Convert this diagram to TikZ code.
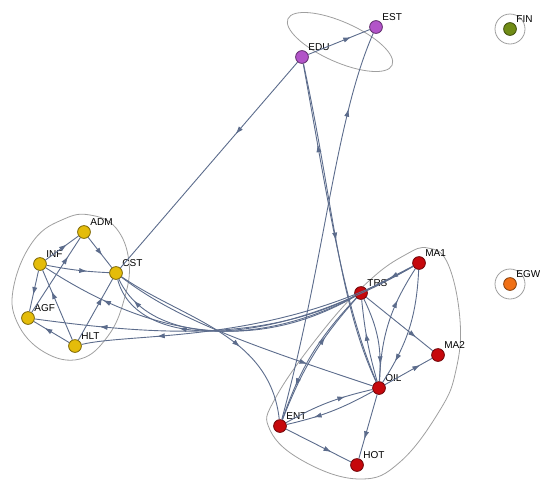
\documentclass[tikz,border=0pt]{standalone}
\usepackage{fontspec}
\setmainfont{Liberation Sans}
\usetikzlibrary{arrows.meta,decorations.markings}
\definecolor{arestacor}{RGB}{92,108,140}
\definecolor{amarelo}{RGB}{228,188,10}
\definecolor{vermelho}{RGB}{198,8,12}
\definecolor{roxo}{RGB}{178,84,200}
\definecolor{oliva}{RGB}{112,140,22}
\definecolor{laranja}{RGB}{240,112,22}
\begin{document}
\begin{tikzpicture}[x=0.5pt,y=-0.5pt,
  vertice/.style={circle,draw=#1!55!black,fill=#1,line width=.4pt,minimum size=6.4pt,inner sep=0pt},
  rotulo/.style={font=\fontsize{5}{6}\selectfont,inner sep=.6pt},
  aresta/.style={draw=arestacor,line width=.45pt,postaction={decorate},
    decoration={markings,mark=at position #1 with {\arrow{Latex[length=4pt,width=2.6pt]}}}},
  aresta/.default=.6,
  casca/.style={draw=gray!75,line width=.4pt}]
  \useasboundingbox (0,0) rectangle (540,493);
  % grupos
  \draw[casca] plot[smooth cycle,tension=.7] coordinates {(90,215) (116,228) (129,262) (124,300) (108,336) (80,359) (44,352) (17,322) (14,285) (34,240) (64,219)};
  \draw[casca] plot[smooth cycle,tension=.7] coordinates {(428,248) (448,264) (460,320) (456,370) (440,410) (400,462) (360,479) (305,462) (270,430) (276,397) (325,328) (370,280) (405,255)};
  \draw[casca,rotate around={-24:(340,42)}] (340,42) ellipse (57 and 20);
  \draw[casca] (510,29) circle (15);
  \draw[casca] (510,284) circle (15);
  % vertices
  \node[vertice=amarelo,label={[rotulo]45:ADM}] (adm) at (84,232) {};
  \node[vertice=amarelo,label={[rotulo]45:INF}] (inf) at (40,264) {};
  \node[vertice=amarelo,label={[rotulo]45:CST}] (cst) at (116,273) {};
  \node[vertice=amarelo,label={[rotulo]45:AGF}] (agf) at (28,318) {};
  \node[vertice=amarelo,label={[rotulo]45:HLT}] (hlt) at (75,346) {};
  \node[vertice=vermelho,label={[rotulo]45:MA1}] (ma1) at (419,263) {};
  \node[vertice=vermelho,label={[rotulo]45:TRS}] (trs) at (361,293) {};
  \node[vertice=vermelho,label={[rotulo]45:MA2}] (ma2) at (438,355) {};
  \node[vertice=vermelho,label={[rotulo]45:OIL}] (oil) at (379,388) {};
  \node[vertice=vermelho,label={[rotulo]45:ENT}] (ent) at (280,426) {};
  \node[vertice=vermelho,label={[rotulo]45:HOT}] (hot) at (357,465) {};
  \node[vertice=roxo,label={[rotulo]45:EDU}] (edu) at (302,57) {};
  \node[vertice=roxo,label={[rotulo]45:EST}] (est) at (376,27) {};
  \node[vertice=oliva,label={[rotulo]45:FIN}] (fin) at (510,29) {};
  \node[vertice=laranja,label={[rotulo]45:EGW}] (egw) at (510,284) {};
  % grupo amarelo
  \draw[aresta=.65] (inf) -- (adm);
  \draw[aresta=.6] (adm) -- (cst);
  \draw[aresta=.65] (inf) to[bend right=4] (cst);
  \draw[aresta=.6] (inf) -- (agf);
  \draw[aresta=.7] (hlt) -- (agf);
  \draw[aresta=.7] (hlt) -- (inf);
  \draw[aresta=.75] (agf) -- (adm);
  \draw[aresta=.7] (hlt) -- (cst);
  % entre grupos
  \draw[aresta=.9] (trs) .. controls (265,345) and (150,346) .. (cst);
  \draw[aresta=.75] (ma1) .. controls (260,355) and (135,346) .. (cst);
  \draw[aresta=.8] (trs) .. controls (270,345) and (170,349) .. (inf);
  \draw[aresta=.8] (trs) .. controls (270,338) and (174,338) .. (agf);
  \draw[aresta=.78] (ma1) .. controls (275,345) and (134,332) .. (hlt);
  \draw[aresta=.62] (cst) .. controls (185,320) and (270,335) .. (ent);
  \draw[aresta=.75] (cst) .. controls (175,318) and (240,342) .. (oil);
  \draw[aresta=.35] (edu) -- (cst);
  % grupo roxo
  \draw[aresta=.7] (edu) -- (est);
  \draw[aresta=.55] (edu) .. controls (333,200) and (338,300) .. (oil);
  \draw[aresta=.75] (oil) .. controls (342,300) and (328,200) .. (edu);
  \draw[aresta=.8] (ent) .. controls (325,260) and (335,120) .. (est);
  % grupo vermelho
  \draw[aresta=.75] (trs) -- (ma2);
  \draw[aresta=.75] (oil) -- (ma2);
  \draw[aresta=.7] (oil) -- (hot);
  \draw[aresta=.7] (ent) -- (hot);
  \draw[aresta=.8] (trs) to[bend left=15] (oil);
  \draw[aresta=.6] (oil) to[bend left=5] (trs);
  \draw[aresta=.8] (ma1) to[bend left=15] (oil);
  \draw[aresta=.7] (oil) to[bend left=15] (ma1);
  \draw[aresta=.7] (ent) to[bend left=8] (oil);
  \draw[aresta=.7] (oil) to[bend left=8] (ent);
  \draw[aresta=.75] (trs) to[bend right=12] (ent);
  \draw[aresta=.65] (ent) to[bend left=10] (trs);
  \draw[aresta=.5] (ma1) -- (trs);
\end{tikzpicture}
\end{document}
